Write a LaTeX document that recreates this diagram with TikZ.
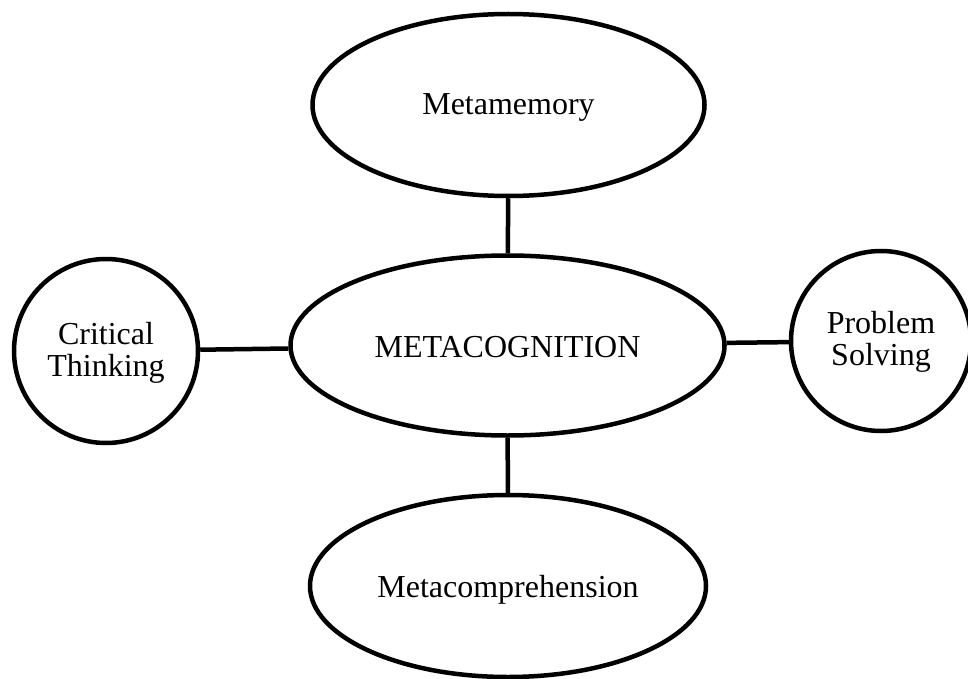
\documentclass[tikz,border=0pt]{standalone}
\usepackage{fontspec}
\setmainfont{Liberation Serif}
\usetikzlibrary{shapes.geometric}
% set the text with its last baseline a fixed distance below the shape's centre
\newcommand{\sinkText}[2]{\raisebox{-#1}[0pt][0pt]{\begin{tabular}[b]{@{}c@{}}#2\end{tabular}}}
\begin{document}
\begin{tikzpicture}[x=1pt,y=-1pt,
  bubble/.style={ellipse,draw=black,line width=4.5pt,inner sep=0pt,
    font=\fontsize{32}{31}\selectfont},
  ring/.style={circle,draw=black,line width=4.5pt,inner sep=0pt,
    font=\fontsize{32}{31}\selectfont},
  link/.style={draw=black,line width=4.5pt}]
\useasboundingbox (0,0) rectangle (968,679);
\fill[white] (0,0) rectangle (968,679);
% central concept and its four satellites
\node[bubble,minimum width=434pt,minimum height=180pt] (meta) at (507.5,345.5) {\sinkText{11.5pt}{METACOGNITION}};
\node[bubble,minimum width=392pt,minimum height=182pt] (memory) at (508.5,105) {\sinkText{10pt}{Metamemory}};
\node[bubble,minimum width=396pt,minimum height=182pt] (comp) at (508,586) {\sinkText{11pt}{Metacomprehension}};
\node[ring,minimum size=184pt] (crit) at (106,351) {\sinkText{25pt}{Critical\\Thinking}};
\node[ring,minimum size=180pt] (prob) at (881,341) {\sinkText{24pt}{Problem\\Solving}};
% connectors
\draw[link] (memory) -- (meta);
\draw[link] (meta) -- (comp);
\draw[link] (crit) -- (meta);
\draw[link] (meta) -- (prob);
\end{tikzpicture}
\end{document}
